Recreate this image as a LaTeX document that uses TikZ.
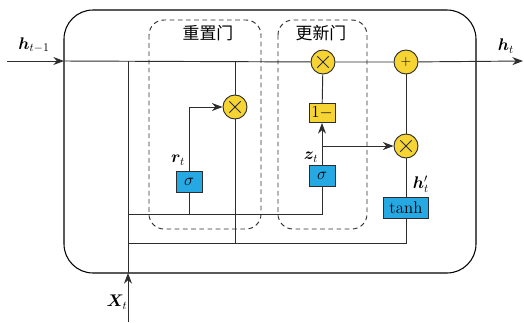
\documentclass[tikz,border=0pt]{standalone}
\usepackage{amsmath,bm}
\usepackage{fontspec}
\newfontfamily\cjk{Noto Sans CJK SC}
\usetikzlibrary{arrows.meta}
\definecolor{opyellow}{RGB}{245,212,52}
\definecolor{gateblue}{RGB}{38,168,226}
\definecolor{wire}{RGB}{45,45,45}
\tikzset{
	op/.style={circle,draw=wire,fill=opyellow,line width=0.8pt,minimum size=0.72cm,inner sep=0pt},
	mul/.style={op,path picture={
		\draw[wire,line width=0.8pt] ([shift={(-0.17cm,-0.17cm)}]path picture bounding box.center) -- ([shift={(0.17cm,0.17cm)}]path picture bounding box.center);
		\draw[wire,line width=0.8pt] ([shift={(-0.17cm,0.17cm)}]path picture bounding box.center) -- ([shift={(0.17cm,-0.17cm)}]path picture bounding box.center);}},
	gatebox/.style={rectangle,draw=wire,line width=0.8pt,fill=gateblue,minimum width=0.78cm,minimum height=0.63cm,inner sep=0pt,font=\Large},
	wirel/.style={wire,line width=0.8pt},
	arr/.style={wirel,-{Stealth[length=0.32cm,width=0.24cm]}},
	gateline/.style={wire,line width=0.8pt,dash pattern=on 4pt off 3pt,rounded corners=0.45cm},
	lbl/.style={font=\Large}
}
\begin{document}
\begin{tikzpicture}[x=0.03cm,y=-0.03cm]
	\useasboundingbox (0,0) rectangle (524,322);
	% outer cell and gates
	\draw[black,line width=0.9pt,rounded corners=0.87cm] (64,10) rectangle (476,273);
	\draw[gateline] (149,20) rectangle (261,229);
	\draw[gateline] (278,20) rectangle (367,229);
	\node[font=\cjk\Large] (reset) at (208,33) {重置门};
	\node[font=\cjk\Large] (update) at (321,33) {更新门};
	% operators and boxes
	\node[mul] (mulr) at (235,107) {};
	\node[mul] (mulz) at (323,62) {};
	\node[op] (plus) at (406,62) {\large$+$};
	\node[mul] (mulh) at (406,146) {};
	\node[gatebox] (sigr) at (189,182) {$\sigma$};
	\node[gatebox] (sigz) at (322,176) {$\sigma$};
	\node[gatebox,fill=opyellow,minimum height=0.57cm] (onem) at (322,113) {1$-$};
	\node[gatebox,minimum width=1.35cm] (tanh) at (406,208) {tanh};
	% junctions
	\coordinate (hin) at (7,61);
	\coordinate (hl) at (64,61);
	\coordinate (hout) at (523,61);
	\coordinate (xin) at (128,322);
	\coordinate (xb) at (128,273);
	\coordinate (xtop) at (128,61);
	\coordinate (ja) at (128,214);
	\coordinate (jb) at (128,243);
	\coordinate (rtop) at (235,61);
	\coordinate (rbot) at (235,243);
	\coordinate (zbr) at (322,146);
	% wires
	\draw[arr] (hin) -- (hl);
	\draw[wirel] (hl) -- (mulz) -- (plus);
	\draw[arr] (plus) -- (hout);
	\draw[arr] (xin) -- (xb);
	\draw[wirel] (xb) -- (xtop);
	\draw[wirel] (rtop) -- (mulr) -- (rbot);
	\draw[arr] (sigr.north) |- (mulr.west);
	\draw[wirel] (ja) -| (sigr.south);
	\draw[wirel] (ja) -| (sigz.south);
	\draw[wirel] (jb) -| (tanh.south);
	\draw[arr] (sigz.north) -- (onem.south);
	\draw[arr] (zbr) -- (mulh.west);
	\draw[wirel] (onem) -- (mulz);
	\draw[wirel] (tanh) -- (mulh) -- (plus);
	% labels
	\node[lbl] (hprev) at (34,45) {$\bm{h}_{t-1}$};
	\node[lbl] (hnext) at (506,46) {$\bm{h}_t$};
	\node[lbl] (xt) at (117,302) {$\bm{X}_t$};
	\node[lbl] (rt) at (178,160) {$\bm{r}_t$};
	\node[lbl] (zt) at (311,157) {$\bm{z}_t$};
	\node[lbl] (hcand) at (421,184) {$\bm{h}_t'$};
\end{tikzpicture}
\end{document}
